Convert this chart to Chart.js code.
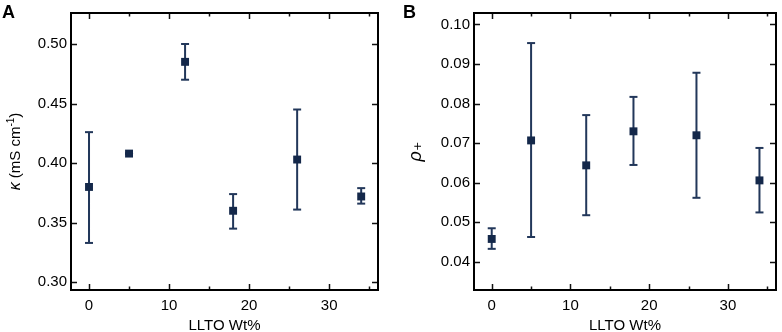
<!DOCTYPE html>
<html>
<head>
<meta charset="utf-8">
<script src="https://cdn.jsdelivr.net/npm/chart.js@4/dist/chart.umd.min.js"></script>
<style>
  html, body { margin: 0; padding: 0; background: #fff; }
  #wrap { position: relative; width: 782px; height: 332px; overflow: hidden; }
  .panel { position: absolute; top: 0; width: 391px; height: 332px; }
  .letter { position: absolute; font: bold 18px 'Liberation Sans', Arial, sans-serif; line-height: 18px; color: #000; }
</style>
</head>
<body>
<div id="wrap">
  <div class="panel" style="left:0"><canvas id="cA" width="391" height="332"></canvas></div>
  <div class="panel" style="left:391px"><canvas id="cB" width="391" height="332"></canvas></div>
  <div class="letter" style="left:2px; top:3px">A</div>
  <div class="letter" style="left:403px; top:3px">B</div>
</div>
<script>
// ---- data ----
const wt = [0, 5, 12, 18, 26, 34];

const kappa   = [0.380, 0.408, 0.485, 0.360, 0.403, 0.372];
const kappaLo = [0.333, 0.408, 0.470, 0.345, 0.361, 0.366];
const kappaHi = [0.426, 0.408, 0.500, 0.374, 0.445, 0.379];

const rho   = [0.0458, 0.0707, 0.0644, 0.0730, 0.0720, 0.0606];
const rhoLo = [0.0433, 0.0463, 0.0518, 0.0645, 0.0562, 0.0525];
const rhoHi = [0.0485, 0.0953, 0.0771, 0.0817, 0.0878, 0.0688];

// ---- tick labels ----
const xTicks = [0, 5, 10, 15, 20, 25, 30, 35];
const xLabelled = [0, 10, 20, 30];
const kappaTicks = [0.30, 0.35, 0.40, 0.45, 0.50];
const rhoTicks = [0.04, 0.05, 0.06, 0.07, 0.08, 0.09, 0.10];

const FONT = "'Liberation Sans', Arial, 'DejaVu Sans', sans-serif";
const MARK = '#14284a';
const ERR = '#22375a';

function pts(xs, ys) { return xs.map((x, i) => ({ x: x, y: ys[i] })); }
function errPts(xs, lo, hi) {
  const out = [];
  xs.forEach((x, i) => { out.push({ x: x, y: lo[i] }, { x: x, y: hi[i] }, { x: x, y: null }); });
  return out;
}

const framePlugin = {
  id: 'frame',
  afterDraw(chart) {
    const ctx = chart.ctx, a = chart.chartArea;
    const xs = chart.scales.x, ys = chart.scales.y;
    ctx.save();
    ctx.strokeStyle = '#111';
    ctx.lineWidth = 1.5;
    xs.ticks.forEach(t => {
      const px = Math.round(xs.getPixelForValue(t.value)) + 0.5;
      const len = xLabelled.includes(t.value) ? 6 : 3.5;
      ctx.beginPath();
      ctx.moveTo(px, a.bottom); ctx.lineTo(px, a.bottom - len);
      ctx.moveTo(px, a.top); ctx.lineTo(px, a.top + len);
      ctx.stroke();
    });
    ys.ticks.forEach(t => {
      const py = Math.round(ys.getPixelForValue(t.value)) + 0.5;
      ctx.beginPath();
      ctx.moveTo(a.left, py); ctx.lineTo(a.left + 6, py);
      ctx.moveTo(a.right, py); ctx.lineTo(a.right - 6, py);
      ctx.stroke();
    });
    ctx.lineWidth = 2;
    ctx.strokeStyle = '#000';
    ctx.strokeRect(a.left, a.top, a.right - a.left, a.bottom - a.top);

    // mixed-style y title (italic symbol + unit with superscript)
    const yt = chart.options.plugins.frame && chart.options.plugins.frame.yTitle;
    if (yt) {
      const cy = (a.top + a.bottom) / 2;
      const parts = yt.parts;
      ctx.fillStyle = '#000';
      ctx.textBaseline = 'alphabetic';
      ctx.textAlign = 'left';
      let total = 0;
      parts.forEach(p => { ctx.font = p.font; total += ctx.measureText(p.text).width; });
      ctx.translate(yt.x, cy);
      ctx.rotate(-Math.PI / 2);
      let cx = -total / 2;
      parts.forEach(p => {
        ctx.font = p.font;
        ctx.fillText(p.text, cx, p.dy || 0);
        cx += ctx.measureText(p.text).width;
      });
    }
    ctx.restore();
  }
};

function makeChart(id, xsArr, ys, lo, hi, yMin, yMax, yTickVals, yDec, yTitleOpt, customTitle, rightPad, yWidth) {
  return new Chart(document.getElementById(id), {
    type: 'scatter',
    data: {
      datasets: [
        {
          data: pts(xsArr, ys),
          pointStyle: 'rect',
          pointRadius: 5.6,
          backgroundColor: MARK,
          borderColor: MARK,
          borderWidth: 0,
          showLine: false,
          order: 0
        },
        {
          data: errPts(xsArr, lo, hi),
          showLine: true,
          spanGaps: false,
          borderColor: ERR,
          borderWidth: 2,
          pointStyle: 'line',
          pointRadius: 4,
          pointBorderWidth: 2,
          pointBorderColor: ERR,
          backgroundColor: ERR,
          order: 1
        }
      ]
    },
    options: {
      responsive: false,
      animation: false,
      events: [],
      layout: { padding: { top: 4, right: rightPad, left: 0, bottom: 0 } },
      plugins: {
        legend: { display: false }, tooltip: { enabled: false },
        frame: { yTitle: customTitle }
      },
      scales: {
        x: {
          type: 'linear',
          min: -2.25, max: 36.1,
          grid: { display: false, drawTicks: false },
          border: { display: false },
          afterBuildTicks: s => { s.ticks = xTicks.map(v => ({ value: v })); s.min = -2.25; s.max = 36.1; },
          ticks: {
            autoSkip: false,
            maxRotation: 0,
            padding: 7,
            color: '#000',
            font: { family: FONT, size: 15 },
            callback: v => (xLabelled.includes(v) ? String(v) : '')
          },
          title: {
            display: true, text: 'LLTO Wt%', color: '#000',
            font: { family: FONT, size: 15, lineHeight: 1 },
            padding: { top: 0, bottom: -1 }
          },
          afterFit: s => { s.height = 42; }
        },
        y: {
          type: 'linear',
          min: yMin, max: yMax,
          grid: { display: false, drawTicks: false },
          border: { display: false },
          afterBuildTicks: s => { s.ticks = yTickVals.map(v => ({ value: v })); s.min = yMin; s.max = yMax; },
          ticks: {
            autoSkip: false,
            padding: 4,
            color: '#000',
            font: { family: FONT, size: 15 },
            callback: v => Number(v).toFixed(yDec)
          },
          title: yTitleOpt,
          afterFit: s => { s.width = yWidth; }
        }
      }
    },
    plugins: [framePlugin]
  });
}

makeChart('cA', wt, kappa, kappaLo, kappaHi, 0.2935, 0.526, kappaTicks, 2,
  { display: false },
  { x: 20, parts: [
      { text: 'κ', font: 'italic 16px ' + FONT },
      { text: ' (mS cm', font: '15px ' + FONT },
      { text: '-1', font: '10px ' + FONT, dy: -6 },
      { text: ')', font: '15px ' + FONT }
  ] },
  13, 71);
makeChart('cB', wt, rho, rhoLo, rhoHi, 0.0329, 0.1029, rhoTicks, 2,
  { display: true, text: 'ρ₊', color: '#000', font: { family: FONT, size: 18, style: 'italic' }, padding: { top: 14, bottom: 0 } },
  null, 3, 83);
</script>
</body>
</html>
